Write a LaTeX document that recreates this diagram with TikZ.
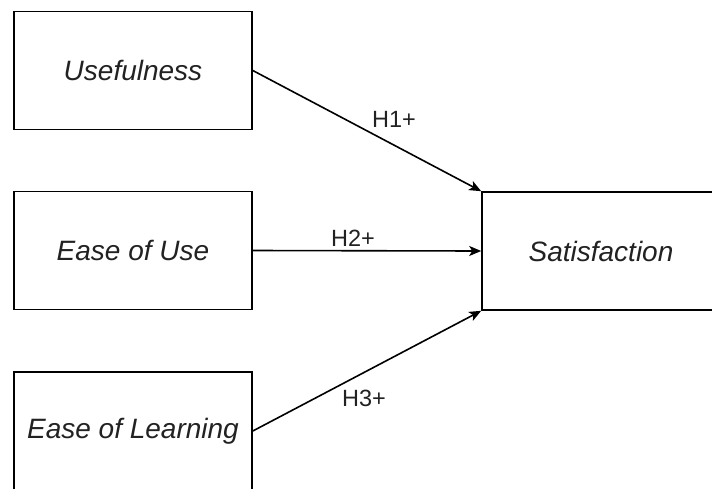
\documentclass[tikz,border=0pt]{standalone}
\usepackage{fontspec}
\setmainfont{Liberation Sans}
\usetikzlibrary{arrows.meta}
\definecolor{txt}{HTML}{222222}
\tikzset{
  box/.style={draw=black, line width=1.6pt, fill=white, minimum width=238pt, minimum height=118pt, inner sep=0pt,
    font=\fontsize{28}{32}\selectfont\itshape, text=txt},
  arr/.style={draw=black, line width=1.6pt, -{Stealth[length=12pt,width=10pt,inset=3pt]}},
  lbl/.style={font=\fontsize{23.5}{27}\selectfont, text=txt, inner sep=0pt}
}
\begin{document}
\begin{tikzpicture}[x=1pt,y=-1pt]
\useasboundingbox (0,0) rectangle (712,488);
\clip (0,0) rectangle (712,488);
\node[box] (u) at (133,70.5) {Usefulness};
\node[box] (e) at (133,250.5) {Ease of Use};
\node[box] (l) at (133,431) {Ease of Learning};
\node[box] (s) at (601,251) {Satisfaction};
\draw[arr] (u.east) -- (s.north west);
\draw[arr] (e.east) -- (s.west);
\draw[arr] (l.east) -- (s.south west);
\node[lbl] (h1) at (394,119) {H1+};
\node[lbl] (h2) at (353,238) {H2+};
\node[lbl] (h3) at (364,398) {H3+};
\end{tikzpicture}
\end{document}
